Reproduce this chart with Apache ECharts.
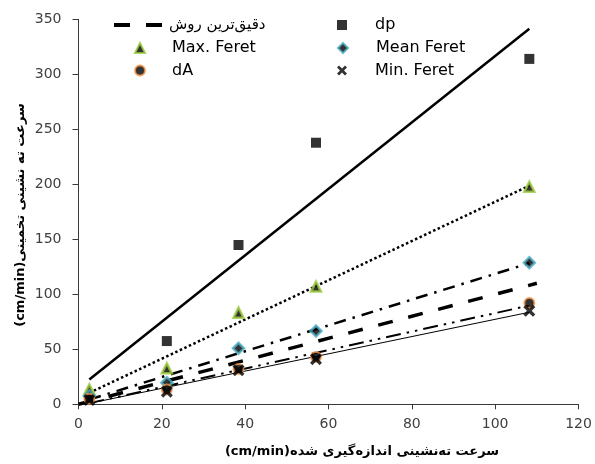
<!DOCTYPE html>
<html>
<head>
<meta charset="utf-8">
<script src="https://cdn.jsdelivr.net/npm/echarts@6/dist/echarts.min.js"></script>
<style>html,body{margin:0;padding:0;background:#fff}#c{width:595px;height:464px}</style>
</head>
<body>
<div id="c"></div>
<script>
// ---- data ----
var measured = [2.6, 21.2, 38.4, 57.0, 108.2];       // measured settling velocity (cm/min)
var dp        = [6,   57.5, 144.8, 237.8, 314];
var maxFeret  = [13.6, 32.7, 83.3, 107, 197.8];
var meanFeret = [7.5, 19.6, 50.9, 66.6, 128.7];
var dA        = [5,   13.5, 32,   43,   92];
var minFeret  = [4,   11.5, 31,   41,   85];
var bestX = [0, 110];                                  // 1:1 reference line
var bestY = [0, 110];
var xTicks = [0, 20, 40, 60, 80, 100, 120];
var yTicks = [0, 50, 100, 150, 200, 250, 300, 350];

var names = {
  best: 'دقیق‌ترین روش',
  dp: 'dp', maxF: 'Max. Feret', meanF: 'Mean Feret', dA: 'dA', minF: 'Min. Feret'
};

function pts(xs, ys){ return xs.map(function(x,i){ return [x, ys[i]]; }); }
// linear least-squares trendline over the data range (as the spreadsheet trendlines)
function trend(xs, ys){
  var n = xs.length, mx = 0, my = 0;
  for (var i=0;i<n;i++){ mx += xs[i]; my += ys[i]; }
  mx/=n; my/=n;
  var sxy=0, sxx=0;
  for (var j=0;j<n;j++){ sxy += (xs[j]-mx)*(ys[j]-my); sxx += (xs[j]-mx)*(xs[j]-mx); }
  var b = sxy/sxx, a = my - b*mx;
  var x0 = Math.min.apply(null, xs), x1 = Math.max.apply(null, xs);
  return [[x0, a + b*x0], [x1, a + b*x1]];
}

var font = 'DejaVu Sans';
var chart = echarts.init(document.getElementById('c'), null, {renderer:'canvas'});

var icons = {
  x: 'path://M2,0 L5,3 L8,0 L10,2 L7,5 L10,8 L8,10 L5,7 L2,10 L0,8 L3,5 L0,2 Z',
  sq: 'path://M0,0H10V10H0Z',
  tri: 'path://M5,0L10,10L0,10Z',
  dia: 'path://M5,0L10,5L5,10L0,5Z',
  circ: 'path://M0,5A5,5,0,1,1,10,5A5,5,0,1,1,0,5Z',
  dash: 'path://M0,0H16V4H0Z M32,0H48V4H32Z'
};

function trendSeries(data, type, width){
  return { type:'line', data:data, symbol:'none', silent:true, z:2,
    lineStyle:{ color:'#000', width:width, type:type, cap:'butt' } };
}

function legendAt(name, icon, left, centerY, w, h, fs, padL){
  return { data:[{ name:name, icon:icon }], left:left, top:centerY-9, itemWidth:w, itemHeight:h,
    selectedMode:false, itemGap:0, padding:0, symbolKeepAspect:true,
    textStyle:{ fontFamily:font, fontSize:fs, color:'#000', lineHeight:18, padding:[0,0,0,padL] } };
}

var option = {
  animation:false,
  backgroundColor:'#fff',
  grid:{ left:78.5, right:16.5, top:19.3, bottom:59.7, containLabel:false },
  legend:[
    legendAt(names.best, icons.dash, 114, 25, 48, 4, 15, 2),
    legendAt(names.maxF, icons.tri, 134, 48, 10, 10, 16, 22),
    legendAt(names.dA, icons.circ, 134, 70.5, 10, 10, 16, 22),
    legendAt(names.dp, icons.sq, 337, 25, 10, 10, 16, 23),
    legendAt(names.meanF, icons.dia, 337, 48, 10, 10, 16, 23),
    legendAt(names.minF, icons.x, 337, 70.5, 10, 10, 16, 23)
  ],
  xAxis:{ type:'value', min:xTicks[0], max:xTicks[xTicks.length-1], interval:20,
    splitLine:{show:false},
    axisLine:{ lineStyle:{ color:'#3a3a3a', width:1 } },
    axisTick:{ inside:false, length:5, lineStyle:{ color:'#3a3a3a' } },
    axisLabel:{ margin:13, fontFamily:font, fontSize:14, color:'#404040' } },
  yAxis:{ type:'value', min:yTicks[0], max:yTicks[yTicks.length-1], interval:50,
    splitLine:{show:false},
    axisLine:{ show:true, lineStyle:{ color:'#3a3a3a', width:1 } },
    axisTick:{ show:true, inside:false, length:6, lineStyle:{ color:'#3a3a3a' } },
    axisLabel:{ margin:17, fontFamily:font, fontSize:14, color:'#404040' } },
  graphic:[
    { type:'text', x:362, y:452, style:{ text:'(cm/min)سرعت ته‌نشینی اندازه‌گیری شده',
      font:'bold 13px "DejaVu Sans"', fill:'#000', align:'center', verticalAlign:'middle' } },
    { type:'text', x:21, y:215, rotation:Math.PI/2, style:{ text:'(cm/min)سرعت ته نشینی تخمینی',
      font:'bold 13px "DejaVu Sans"', fill:'#000', align:'center', verticalAlign:'middle' } }
  ],
  series:[
    { name:names.best, type:'line', data:pts(bestX, bestY), symbol:'none', z:3,
      lineStyle:{ color:'#000', width:3.5, type:[15,16], cap:'butt' }, itemStyle:{color:'#000'} },
    trendSeries(trend(measured, dp), 'solid', 2.5),
    trendSeries(trend(measured, maxFeret), [2.5,2.5], 2.5),
    trendSeries(trend(measured, meanFeret), [12,7,2.5,7], 2.5),
    trendSeries(trend(measured, dA), [15,6,2.5,6,2.5,6], 2),
    trendSeries(trend(measured, minFeret), 'solid', 1),
    { name:names.dp, type:'scatter', data:pts(measured, dp), symbol:'rect', symbolSize:10, z:5,
      itemStyle:{ color:'#000' } },
    { name:names.maxF, type:'scatter', data:pts(measured, maxFeret), symbol:'triangle', symbolSize:10, z:5,
      itemStyle:{ color:'#000', borderColor:'#9BCB3C', borderWidth:2.5 } },
    { name:names.meanF, type:'scatter', data:pts(measured, meanFeret), symbol:'diamond', symbolSize:11, z:5,
      itemStyle:{ color:'#000', borderColor:'#4BACC6', borderWidth:2.5 } },
    { name:names.dA, type:'scatter', data:pts(measured, dA), symbol:'circle', symbolSize:10, z:5,
      itemStyle:{ color:'#000', borderColor:'#F79646', borderWidth:2 } },
    { name:names.minF, type:'scatter', data:pts(measured, minFeret), symbol:icons.x, symbolSize:12, z:6,
      itemStyle:{ color:'#000' } }
  ]
};
chart.setOption(option);
</script>
</body>
</html>
